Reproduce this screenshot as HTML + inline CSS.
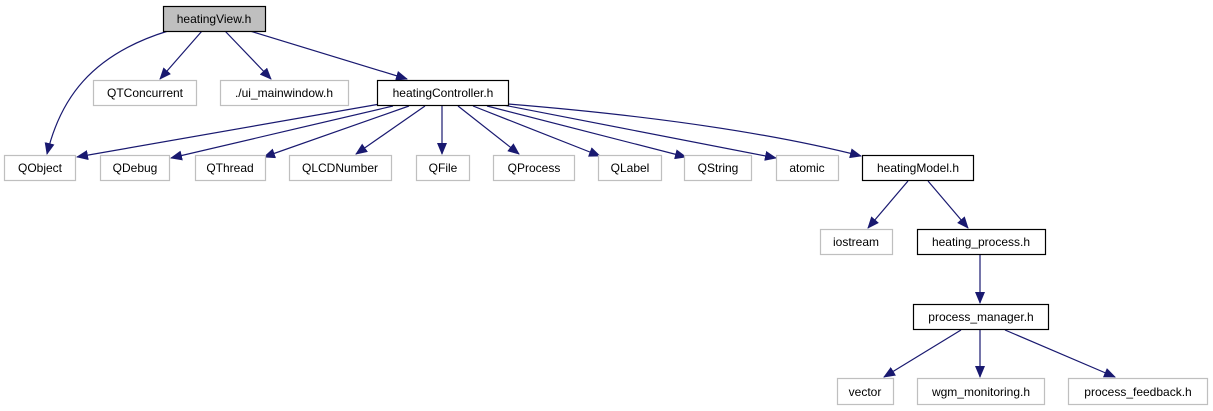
<!DOCTYPE html>
<html><head><meta charset="utf-8"><style>
body{margin:0;background:#fff;width:1213px;height:411px;overflow:hidden}
svg{display:block}
text{font-family:"Liberation Sans",Arial,sans-serif;font-size:12px;text-anchor:middle}
</style></head><body>
<svg width="1213" height="411" viewBox="0 0 1213 411">
<defs><marker id="a" markerWidth="12" markerHeight="10" refX="11" refY="5" orient="auto" markerUnits="userSpaceOnUse"><path d="M0,0 L12,5 L0,10 z" fill="#191970"/></marker></defs>
<g stroke="#191970" stroke-width="1.2" fill="none" marker-end="url(#a)">
<path d="M168,31 C90,55 60,100 47,154"/>
<path d="M202,31 L160,79"/>
<path d="M225,31 L271,79"/>
<path d="M250,31 L407,79"/>
<path d="M380,104 L77,157"/>
<path d="M393,106 L171,158"/>
<path d="M409,106 L264,157"/>
<path d="M425,106 L356,154"/>
<path d="M442,106 L442,154"/>
<path d="M458,106 L519,154"/>
<path d="M473,106 L600,156"/>
<path d="M487,106 L686,157"/>
<path d="M498,104 L776,158"/>
<path d="M508,104 C680,118 790,138 861,156"/>
<path d="M908,181 L868,228"/>
<path d="M928,181 L968,228"/>
<path d="M980,255 L980,303"/>
<path d="M961,330 L884,377"/>
<path d="M980,330 L980,377"/>
<path d="M1005,330 L1115,377"/>
</g>
<g stroke-width="1.2">
<rect x="163.5" y="6.5" width="102" height="25" fill="#bfbfbf" stroke="#000"/>
<rect x="93.5" y="80.5" width="103" height="25" fill="#fff" stroke="#bfbfbf"/>
<rect x="220.5" y="80.5" width="128" height="25" fill="#fff" stroke="#bfbfbf"/>
<rect x="377.5" y="80.5" width="131" height="25" fill="#fff" stroke="#000"/>
<rect x="4.5" y="155.5" width="71" height="25" fill="#fff" stroke="#bfbfbf"/>
<rect x="100.5" y="155.5" width="69" height="25" fill="#fff" stroke="#bfbfbf"/>
<rect x="195.5" y="155.5" width="70" height="25" fill="#fff" stroke="#bfbfbf"/>
<rect x="289.5" y="155.5" width="102" height="25" fill="#fff" stroke="#bfbfbf"/>
<rect x="416.5" y="155.5" width="53" height="25" fill="#fff" stroke="#bfbfbf"/>
<rect x="493.5" y="155.5" width="81" height="25" fill="#fff" stroke="#bfbfbf"/>
<rect x="598.5" y="155.5" width="63" height="25" fill="#fff" stroke="#bfbfbf"/>
<rect x="684.5" y="155.5" width="67" height="25" fill="#fff" stroke="#bfbfbf"/>
<rect x="776.5" y="155.5" width="62" height="25" fill="#fff" stroke="#bfbfbf"/>
<rect x="862.5" y="155.5" width="111" height="25" fill="#fff" stroke="#000"/>
<rect x="820.5" y="229.5" width="72" height="25" fill="#fff" stroke="#bfbfbf"/>
<rect x="917.5" y="229.5" width="128" height="25" fill="#fff" stroke="#000"/>
<rect x="913.5" y="304.5" width="135" height="25" fill="#fff" stroke="#000"/>
<rect x="837.5" y="378.5" width="56" height="26" fill="#fff" stroke="#bfbfbf"/>
<rect x="917.5" y="378.5" width="127" height="26" fill="#fff" stroke="#bfbfbf"/>
<rect x="1068.5" y="378.5" width="139" height="26" fill="#fff" stroke="#bfbfbf"/>
</g>
<g fill="#000">
<text x="214" y="23">heatingView.h</text>
<text x="145" y="97">QTConcurrent</text>
<text x="284" y="97">./ui_mainwindow.h</text>
<text x="443" y="97">heatingController.h</text>
<text x="40" y="172">QObject</text>
<text x="135" y="172">QDebug</text>
<text x="230" y="172">QThread</text>
<text x="340" y="172">QLCDNumber</text>
<text x="443" y="172">QFile</text>
<text x="534" y="172">QProcess</text>
<text x="630" y="172">QLabel</text>
<text x="718" y="172">QString</text>
<text x="807" y="172">atomic</text>
<text x="918" y="172">heatingModel.h</text>
<text x="856" y="246">iostream</text>
<text x="981" y="246">heating_process.h</text>
<text x="981" y="321">process_manager.h</text>
<text x="865" y="396">vector</text>
<text x="981" y="396">wgm_monitoring.h</text>
<text x="1138" y="396">process_feedback.h</text>
</g>
</svg>
</body></html>
